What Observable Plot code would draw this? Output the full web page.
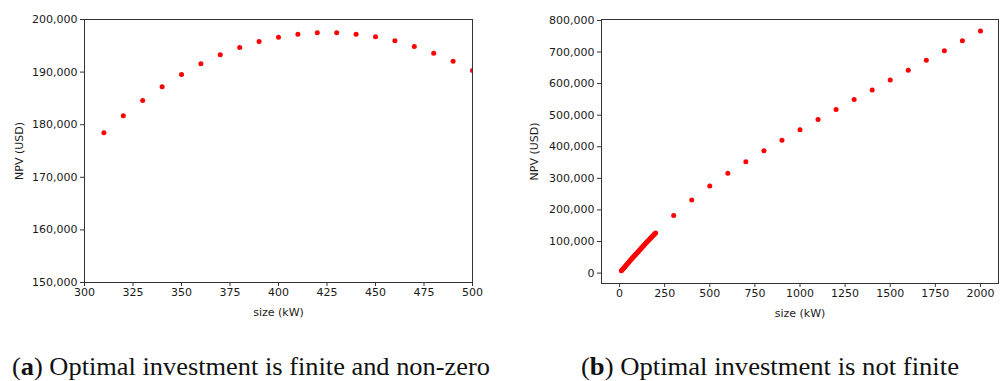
<!DOCTYPE html>
<html>
<head>
<meta charset="utf-8">
<script src="https://cdn.jsdelivr.net/npm/d3@7"></script>
<script src="https://cdn.jsdelivr.net/npm/@observablehq/plot@0.6"></script>
<style>
  html, body { margin: 0; padding: 0; background: #fff; }
  #wrap { position: relative; width: 1001px; height: 381px; overflow: hidden; }
  #a, #b, #cap { position: absolute; top: 0; }
  #a { left: 0; }
  #b { left: 500px; }
  #cap { left: 0; }
</style>
</head>
<body>
<div id="wrap">
  <div id="a"></div>
  <div id="b"></div>
  <svg id="cap" width="1001" height="381" xmlns="http://www.w3.org/2000/svg"></svg>
</div>
<script>
// ---- Panel (a): optimal investment finite and non-zero ----
const sizeA = [310, 320, 330, 340, 350, 360, 370, 380, 390, 400, 410, 420, 430, 440, 450, 460, 470, 480, 490, 500];
const npvA  = [178450, 181690, 184600, 187200, 189540, 191570, 193280, 194680, 195820, 196640,
               197210, 197470, 197470, 197210, 196700, 195940, 194870, 193600, 192080, 190300];
const xTicksA = [300, 325, 350, 375, 400, 425, 450, 475, 500];
const yTicksA = [150000, 160000, 170000, 180000, 190000, 200000];

// ---- Panel (b): optimal investment not finite ----
const sizeB = [10, 15, 20, 25, 30, 35, 40, 45, 50, 55, 60, 65, 70, 75, 80, 85, 90, 95, 100,
               105, 110, 115, 120, 125, 130, 135, 140, 145, 150, 155, 160, 165, 170, 175, 180, 185, 190, 195, 200,
               300, 400, 500, 600, 700, 800, 900, 1000, 1100, 1200, 1300, 1400, 1500, 1600, 1700, 1800, 1900, 2000];
const npvB  = [7000, 10350, 13700, 17050, 20400, 23750, 27100, 30450, 33800, 37150, 40500, 43700, 46900, 50100,
               53300, 56500, 59700, 62900, 66100, 69300, 72500, 75600, 78700, 81800, 84900, 88000, 91100, 94200,
               97300, 100400, 103500, 106450, 109400, 112350, 115300, 118250, 121200, 124150, 127100,
               182000, 231600, 275800, 315800, 352600, 387400, 421000, 453700, 486300, 517900, 549500,
               580000, 611600, 642000, 673700, 704000, 735800, 766300];
const xTicksB = [0, 250, 500, 750, 1000, 1250, 1500, 1750, 2000];
const yTicksB = [0, 100000, 200000, 300000, 400000, 500000, 600000, 700000, 800000];

const xLabel = "size (kW)";
const yLabel = "NPV (USD)";
const captionA = ["(", "a", ") Optimal investment is finite and non-zero"];
const captionB = ["(", "b", ") Optimal investment is not finite"];

const dataA = sizeA.map((s, i) => ({size: s, npv: npvA[i]}));
const dataB = sizeB.map((s, i) => ({size: s, npv: npvB[i]}));

const fmtY = d3.format(",");
const fmtX = d3.format("d");
const style = {fontFamily: "'DejaVu Sans', sans-serif", fontSize: "11px", color: "#1a1a1a", background: "transparent"};

function panel(opts) {
  return Plot.plot({
    width: opts.width, height: 320,
    marginLeft: opts.ml, marginRight: opts.mr, marginTop: 19, marginBottom: opts.mb,
    style,
    x: {domain: opts.xDomain},
    y: {domain: opts.yDomain},
    marks: [
      Plot.dot(opts.data, {x: "size", y: "npv", r: 2.5, fill: "#ff0000", stroke: null, clip: true}),
      Plot.frame({stroke: "#333", strokeWidth: 1}),
      Plot.axisX({ticks: opts.xTicks, tickFormat: fmtX, tickSize: 4, tickPadding: 2, stroke: "#333",
                  label: xLabel, labelAnchor: "center", labelArrow: "none", labelOffset: 33}),
      Plot.axisY({ticks: opts.yTicks, tickFormat: fmtY, tickSize: 4, tickPadding: 3, stroke: "#333",
                  label: yLabel, labelAnchor: "center", labelArrow: "none", labelOffset: opts.ylo})
    ]
  });
}

document.getElementById("a").append(panel({
  width: 500, ml: 84, mr: 28, mb: 38, xDomain: [300, 500], yDomain: [150000, 200000],
  xTicks: xTicksA, yTicks: yTicksA, data: dataA, ylo: 69
}));
document.getElementById("b").append(panel({
  width: 501, ml: 101, mr: 3, mb: 37, xDomain: [-100, 2100], yDomain: [-33000, 803000],
  xTicks: xTicksB, yTicks: yTicksB, data: dataB, ylo: 71
}));

// captions
const cap = d3.select("#cap");
function caption(parts, x, len) {
  const t = cap.append("text")
    .attr("x", x).attr("y", 375)
    .attr("textLength", len).attr("lengthAdjust", "spacingAndGlyphs")
    .attr("font-family", "'Liberation Serif', serif")
    .attr("font-size", 25).attr("fill", "#111");
  t.append("tspan").text(parts[0]);
  t.append("tspan").attr("font-weight", "bold").text(parts[1]);
  t.append("tspan").text(parts[2]);
}
caption(captionA, 12, 478);
caption(captionB, 581, 378);
</script>
</body>
</html>
